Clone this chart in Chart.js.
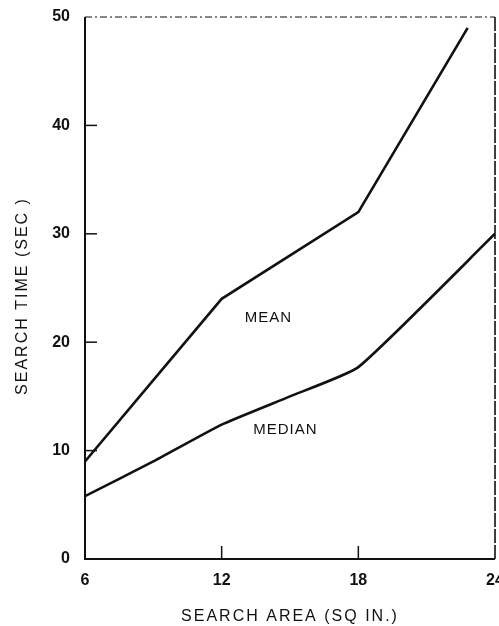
<!DOCTYPE html>
<html>
<head>
<meta charset="utf-8">
<script src="https://cdn.jsdelivr.net/npm/chart.js@4.4.1/dist/chart.umd.min.js"></script>
<style>
    html, body { margin: 0; padding: 0; background: #fff; }
    #wrap { width: 499px; height: 626px; }
</style>
</head>
<body>
<div id="wrap"><canvas id="myChart" width="499" height="626"></canvas></div>
<script>
// area (sq in) vs. search time (sec)
let meanX = [6, 12, 18, 22.8];
let meanY = [9, 24, 32, 49];
let medianX = [6, 9, 12, 15, 18, 24];
let medianY = [5.8, 9, 12.4, 15, 17.7, 30];
let xTicks = [6, 12, 18, 24];
let yTicks = [0, 10, 20, 30, 40, 50];
let curveLabels = ['MEAN', 'MEDIAN'];
let curveLabelX = [14.05, 14.8];
let curveLabelY = [22.2, 11.9];

const FONT = '"Liberation Sans", Arial, sans-serif';

function toPoints(xs, ys) {
    return xs.map(function (x, i) { return { x: x, y: ys[i] }; });
}

/*** titulos de ejes espaciados ***/
const spacedTitles = {
    id: 'spacedTitles',
    afterLayout: function (chart) {
        ['x', 'y'].forEach(function (id) {
            let s = chart.scales[id];
            if (s._spaced) return;
            let original = s.drawTitle;
            s.drawTitle = function () {
                this.ctx.save();
                this.ctx.letterSpacing = '2px';
                if (this.axis === 'y') this.ctx.translate(0, 8);
                original.apply(this, arguments);
                this.ctx.restore();
            };
            s._spaced = true;
        });
    }
};

/*** marco, marcas internas y rotulos de las curvas ***/
const framePlugin = {
    id: 'frame',
    afterDatasetsDraw: function (chart) {
        let ctx = chart.ctx;
        let a = chart.chartArea;
        let sx = chart.scales.x;
        let sy = chart.scales.y;
        ctx.save();
        ctx.strokeStyle = '#111';
        // izquierda y abajo
        ctx.lineWidth = 2;
        ctx.beginPath();
        ctx.moveTo(a.left, a.top);
        ctx.lineTo(a.left, a.bottom);
        ctx.lineTo(a.right, a.bottom);
        ctx.stroke();
        // derecha
        ctx.lineWidth = 1.6;
        ctx.setLineDash([14, 2]);
        ctx.beginPath();
        ctx.moveTo(a.right, a.top);
        ctx.lineTo(a.right, a.bottom);
        ctx.stroke();
        // arriba
        ctx.lineWidth = 1.2;
        ctx.setLineDash([7, 3, 2, 3]);
        ctx.beginPath();
        ctx.moveTo(a.left, a.top);
        ctx.lineTo(a.right, a.top);
        ctx.stroke();
        ctx.setLineDash([]);
        // marcas hacia adentro
        ctx.lineWidth = 1.5;
        yTicks.slice(1, -1).forEach(function (v) {
            let py = sy.getPixelForValue(v);
            ctx.beginPath();
            ctx.moveTo(a.left, py);
            ctx.lineTo(a.left + 12, py);
            ctx.stroke();
        });
        xTicks.slice(1, -1).forEach(function (v) {
            let px = sx.getPixelForValue(v);
            ctx.beginPath();
            ctx.moveTo(px, a.bottom);
            ctx.lineTo(px, a.bottom - 13);
            ctx.stroke();
        });
        // rotulos
        ctx.fillStyle = '#111';
        ctx.font = '15px ' + FONT;
        ctx.letterSpacing = '1px';
        ctx.textAlign = 'center';
        ctx.textBaseline = 'middle';
        curveLabels.forEach(function (t, i) {
            ctx.fillText(t, sx.getPixelForValue(curveLabelX[i]), sy.getPixelForValue(curveLabelY[i]));
        });
        ctx.restore();
    }
};

function renderGraph(el) {
    let ctx = document.getElementById(el).getContext('2d');
    new Chart(ctx, {
        type: 'line',
        data: {
            datasets: [
                {
                    label: 'Mean',
                    data: toPoints(meanX, meanY),
                    borderColor: '#111',
                    borderWidth: 2.6,
                    pointRadius: 0,
                    tension: 0
                },
                {
                    label: 'Median',
                    data: toPoints(medianX, medianY),
                    borderColor: '#111',
                    borderWidth: 2.6,
                    pointRadius: 0,
                    tension: 0.15
                }
            ]
        },
        options: {
            responsive: false,
            animation: false,
            layout: { padding: { left: 0, top: 17, right: 4, bottom: 0 } },
            plugins: {
                legend: { display: false },
                tooltip: { enabled: false }
            },
            scales: {
                x: {
                    type: 'linear',
                    min: 6,
                    max: 24,
                    afterBuildTicks: function (s) {
                        s.ticks = xTicks.map(function (v) { return { value: v }; });
                    },
                    afterFit: function (s) {
                        s.height = 67;
                        s.paddingRight = 0;
                        s.paddingLeft = 0;
                    },
                    grid: { display: false, drawTicks: false },
                    border: { display: false },
                    ticks: {
                        color: '#111',
                        padding: 12,
                        maxRotation: 0,
                        font: { family: FONT, size: 16, weight: 'bold' }
                    },
                    title: {
                        display: true,
                        text: 'SEARCH AREA (SQ IN.)',
                        color: '#111',
                        padding: { top: 3, bottom: 0 },
                        font: { family: FONT, size: 16 }
                    }
                },
                y: {
                    min: 0,
                    max: 50,
                    afterBuildTicks: function (s) {
                        s.ticks = yTicks.map(function (v) { return { value: v }; });
                    },
                    afterFit: function (s) {
                        s.width = 85;
                        s.paddingTop = 0;
                        s.paddingBottom = 0;
                    },
                    grid: { display: false, drawTicks: false },
                    border: { display: false },
                    ticks: {
                        color: '#111',
                        padding: 15,
                        font: { family: FONT, size: 16, weight: 'bold' }
                    },
                    title: {
                        display: true,
                        text: 'SEARCH TIME (SEC )',
                        color: '#111',
                        padding: { top: 13, bottom: 0 },
                        font: { family: FONT, size: 16 }
                    }
                }
            }
        },
        plugins: [spacedTitles, framePlugin]
    });
}

renderGraph('myChart');
</script>
</body>
</html>
